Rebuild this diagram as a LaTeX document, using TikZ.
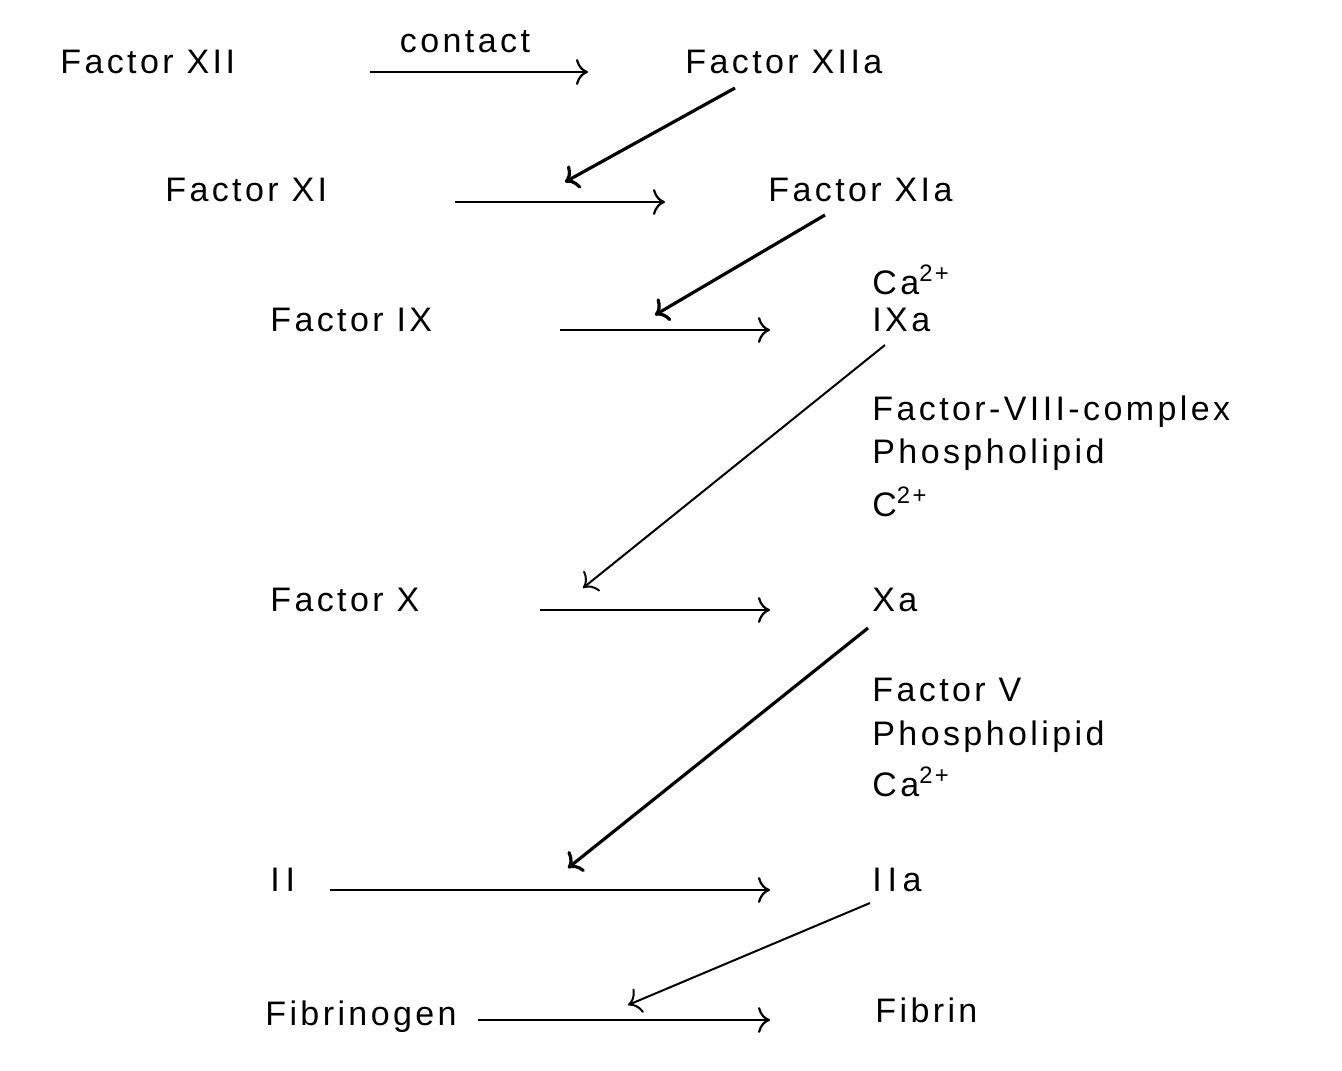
\documentclass[tikz,border=0pt]{standalone}
\usepackage{fontspec}
\setmainfont[LetterSpace=10]{Liberation Sans}
\usetikzlibrary{arrows.meta}
\begin{document}
\begin{tikzpicture}[x=0.5pt,y=-0.5pt,
  lbl/.style={anchor=west,inner sep=0pt,font=\fontsize{17}{20}\selectfont},
  conv/.style={line width=1.1pt,-{To[length=6pt,width=13pt]}},
  act/.style={line width=1.6pt,-{To[length=6pt,width=13pt]}},
  actthin/.style={line width=1pt,-{To[length=6pt,width=13pt]}}]
\useasboundingbox (0,0) rectangle (1342,1070);
\node[lbl] (f12) at (60,62) {Factor XII};
\node[lbl,anchor=center] (contact) at (465,42) {contact};
\node[lbl] (f12a) at (685,62) {Factor XIIa};
\node[lbl] (f11) at (165,190) {Factor XI};
\node[lbl] (f11a) at (768,190) {Factor XIa};
\node[lbl] (f9) at (270,320) {Factor IX};
\node[lbl] (ca1) at (872,280) {Ca\textsuperscript{2+}};
\node[lbl] (f9a) at (872,320) {IXa};
\node[lbl] (c8) at (872,412) {Factor-VIII-complex};
\node[lbl] (pl1) at (872,455) {Phospholipid};
\node[lbl] (c2) at (872,502) {C\textsuperscript{2+}};
\node[lbl] (f10) at (270,600) {Factor X};
\node[lbl] (f10a) at (872,600) {Xa};
\node[lbl] (f5) at (872,690) {Factor V};
\node[lbl] (pl2) at (872,737) {Phospholipid};
\node[lbl] (ca2) at (872,782) {Ca\textsuperscript{2+}};
\node[lbl] (f2) at (270,880) {I\,I};
\node[lbl] (f2a) at (872,880) {I\,I\,a};
\node[lbl] (fg) at (265,1017) {Fibrinogen};
\node[lbl] (fb) at (875,1010) {Fibrin};
\coordinate (a1s) at (370,72); \coordinate (a1e) at (588,72);
\coordinate (a2s) at (455,202); \coordinate (a2e) at (665,202);
\coordinate (a3s) at (560,330); \coordinate (a3e) at (770,330);
\coordinate (a4s) at (540,610); \coordinate (a4e) at (770,610);
\coordinate (a5s) at (330,890); \coordinate (a5e) at (770,890);
\coordinate (a6s) at (478,1020); \coordinate (a6e) at (770,1020);
\foreach \i in {1,...,6} \draw[conv] (a\i s) -- (a\i e);
\coordinate (d1s) at (735,88); \coordinate (d1e) at (565,182);
\coordinate (d2s) at (825,215); \coordinate (d2e) at (655,315);
\coordinate (d3s) at (885,345); \coordinate (d3e) at (583,588);
\coordinate (d4s) at (868,628); \coordinate (d4e) at (568,868);
\coordinate (d5s) at (870,903); \coordinate (d5e) at (628,1005);
\draw[act] (d1s) -- (d1e);
\draw[act] (d2s) -- (d2e);
\draw[actthin] (d3s) -- (d3e);
\draw[act] (d4s) -- (d4e);
\draw[actthin] (d5s) -- (d5e);
\end{tikzpicture}
\end{document}
